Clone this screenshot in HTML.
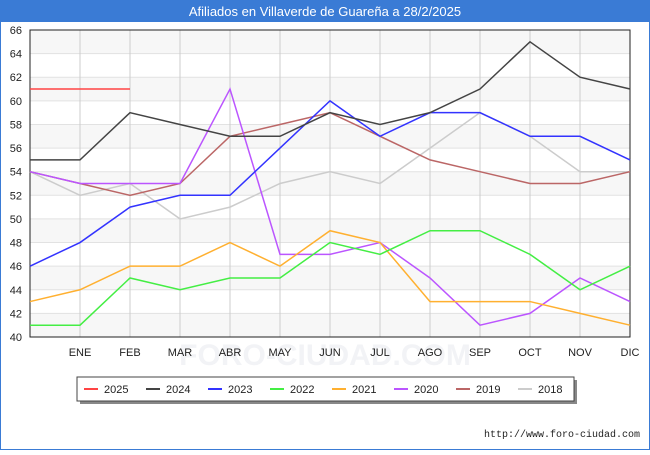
<!DOCTYPE html>
<html><head><meta charset="utf-8"><style>
body{margin:0;width:650px;height:450px;overflow:hidden;background:#fff;font-family:"Liberation Sans","DejaVu Sans",sans-serif}
</style></head><body>
<svg width="650" height="450" xmlns="http://www.w3.org/2000/svg">
<rect x="0.5" y="0.5" width="649" height="449" fill="#fff" stroke="#3a7bd5"/>
<rect x="0" y="0" width="650" height="22" fill="#3a7bd5"/>
<text x="325" y="16" text-anchor="middle" fill="#fff" font-size="13">Afiliados en Villaverde de Guareña a 28/2/2025</text>
<g id="bands"></g>
<text x="325" y="365" text-anchor="middle" fill="#f2f3f6" font-size="30" font-weight="bold">FORO-CIUDAD.COM</text>
<g id="grid"></g><g id="axes"></g><g id="series"></g>
<rect x="80" y="380" width="497" height="24" fill="#888"/>
<rect x="77" y="377" width="497" height="24" fill="#fff" stroke="#444"/>
<g id="legend"></g>
<text x="640" y="437" text-anchor="end" font-size="10" fill="#222" font-family="Liberation Mono, monospace">http://www.foro-ciudad.com</text>
</svg>
<script>
const months=["","ENE","FEB","MAR","ABR","MAY","JUN","JUL","AGO","SEP","OCT","NOV","DIC"];
const yTicks=[40,42,44,46,48,50,52,54,56,58,60,62,64,66];
const seriesNames=["2025","2024","2023","2022","2021","2020","2019","2018"];
const seriesColors=["#ff4444","#444444","#3333ff","#44ee44","#ffb030","#bb55ff","#bb6666","#cccccc"];
const v2025=[61,61,61];
const v2024=[55,55,59,58,57,57,59,58,59,61,65,62,61];
const v2023=[46,48,51,52,52,56,60,57,59,59,57,57,55];
const v2022=[41,41,45,44,45,45,48,47,49,49,47,44,46];
const v2021=[43,44,46,46,48,46,49,48,43,43,43,42,41];
const v2020=[54,53,53,53,61,47,47,48,45,41,42,45,43];
const v2019=[54,53,52,53,57,58,59,57,55,54,53,53,54];
const v2018=[54,52,53,50,51,53,54,53,56,59,57,54,54];
const allVals=[v2025,v2024,v2023,v2022,v2021,v2020,v2019,v2018];
const L=30,R=630,T=30,B=337,yMin=40,yMax=66;
const X=i=>L+i*(R-L)/12;
const Y=v=>B-(v-yMin)*(B-T)/(yMax-yMin);
const NS="http://www.w3.org/2000/svg";
function mk(p,tag,a){const e=document.createElementNS(NS,tag);for(const k in a)e.setAttribute(k,a[k]);document.getElementById(p).appendChild(e);return e;}
for(let i=0;i<yTicks.length-1;i++){if(i%2===0){const b=mk("bands","rect",{x:L,y:Y(yTicks[i+1]),width:R-L,height:Y(yTicks[i])-Y(yTicks[i+1]),fill:"#f7f7f7"});

}}
yTicks.forEach(t=>{const g=mk("grid","line",{x1:L,x2:R,y1:Y(t),y2:Y(t),stroke:"#e2e2e2"});


const tx=mk("axes","text",{x:L-8,y:Y(t)+4,"text-anchor":"end","font-size":"11",fill:"#222"});tx.textContent=t;

});
months.forEach((m,i)=>{if(i>0){const g=mk("grid","line",{x1:X(i),x2:X(i),y1:T,y2:B,stroke:"#cccccc"});

}
const tx=mk("axes","text",{x:X(i),y:B+19,"text-anchor":"middle","font-size":"11",fill:"#222"});tx.textContent=m;

});
const ax=mk("axes","rect",{x:L,y:T,width:R-L,height:B-T,fill:"none",stroke:"#222"});


for(let s=allVals.length-1;s>=0;s--){const pts=allVals[s].map((v,i)=>X(i)+","+Y(v)).join(" ");
const pl=mk("series","polyline",{points:pts,fill:"none",stroke:seriesColors[s],"stroke-width":"1.5"});

}
seriesNames.forEach((n,i)=>{const x0=84+i*62;
const ln=mk("legend","line",{x1:x0,x2:x0+14,y1:389,y2:389,stroke:seriesColors[i],"stroke-width":"2"});


const tx=mk("legend","text",{x:x0+20,y:393,"font-size":"11",fill:"#222"});tx.textContent=n;

});
</script>
</body></html>
